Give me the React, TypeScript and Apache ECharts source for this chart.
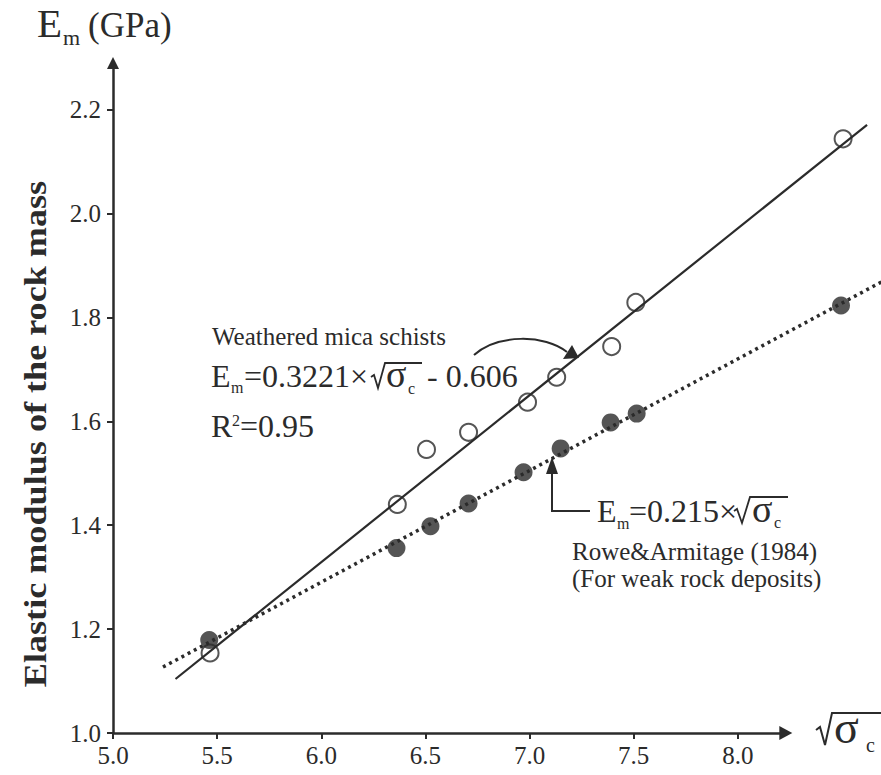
import React, { useEffect, useRef } from "react";
import * as echarts from "echarts";

const xTicks = [5.0, 5.5, 6.0, 6.5, 7.0, 7.5, 8.0];
const yTicks = [1.0, 1.2, 1.4, 1.6, 1.8, 2.0, 2.2];

// Weathered mica schists (open circles)
const schistX = [5.466, 6.365, 6.505, 6.707, 6.99, 7.13, 7.394, 7.51, 8.505];
const schistY = [1.154, 1.44, 1.546, 1.579, 1.637, 1.685, 1.744, 1.829, 2.144];

// Filled circles
const weakX = [5.462, 6.361, 6.524, 6.707, 6.971, 7.149, 7.389, 7.514, 8.495];
const weakY = [1.179, 1.356, 1.398, 1.442, 1.502, 1.548, 1.598, 1.615, 1.823];

// Fitted lines, end points
const schistFit: [number, number][] = [[5.3, 1.104], [8.62, 2.171]];
const roweFit: [number, number][] = [[5.24, 1.127], [8.78, 1.888]];

// Drawn x axis (ends in an arrow short of the plot edge)
const xAxisStart: [number, number] = [5.0, 1.0];
const xAxisEnd: [number, number] = [8.23, 1.0];

const FONT = '"Liberation Serif", "Times New Roman", serif';
const INK = "#2b2b2b";

function txt(text: string, x: number, baseline: number, size: number, extra: any = {}) {
  return {
    type: "text",
    x,
    y: baseline - 0.3375 * size,
    silent: true,
    style: {
      text,
      fontSize: size,
      fontFamily: FONT,
      fill: INK,
      align: "left",
      verticalAlign: "middle",
      textAlign: "left",
      textVerticalAlign: "middle",
      ...extra,
    },
  };
}

function line(points: number[][], width = 2) {
  return {
    type: "polyline",
    silent: true,
    shape: { points },
    style: { stroke: INK, lineWidth: width, fill: null },
  };
}

export default function App() {
  const ref = useRef<HTMLDivElement>(null);
  useEffect(() => {
    if (!ref.current) return;
    const chart = echarts.init(ref.current, undefined, { renderer: "svg" });
    const graphic: any[] = [
      // Axis title Em (GPa)
      txt("E", 37, 37, 41),
      txt("m", 63, 45, 22),
      txt("(GPa)", 88, 37, 35),
      // Y axis name
      {
        type: "text",
        x: 35,
        y: 434,
        rotation: Math.PI / 2,
        scaleX: 1.13,
        silent: true,
        style: {
          text: "Elastic modulus of the rock mass",
          fontSize: 32,
          fontWeight: "bold",
          fontFamily: FONT,
          fill: INK,
          align: "center",
          verticalAlign: "middle",
          textAlign: "center",
          textVerticalAlign: "middle",
        },
      },
      // X axis name sqrt(sigma_c)
      line([[816, 730], [820, 727], [825, 745], [832, 713], [881, 713]], 2),
      txt("σ", 834, 743, 46),
      txt("c", 866, 752, 20),
      // Weathered mica schists block
      txt("Weathered mica schists", 212, 345, 25),
      txt("E", 211, 387, 32),
      txt("m", 231, 393, 16),
      txt("=0.3221×", 244, 387, 32),
      line([[371, 377], [374, 375], [378, 388], [385, 363], [422, 363]], 1.8),
      txt("σ", 386, 387, 38),
      txt("c", 408, 394, 16),
      txt("- 0.606", 427, 387, 32),
      txt("R", 211, 437, 32),
      txt("2", 232, 426, 16),
      txt("=0.95", 240, 437, 32),
      // curved arrow
      {
        type: "bezierCurve",
        silent: true,
        shape: { x1: 474, y1: 355, cpx1: 497, cpy1: 334, cpx2: 545, cpy2: 334, x2: 567, y2: 352 },
        style: { stroke: INK, lineWidth: 2, fill: null },
      },
      {
        type: "polygon",
        silent: true,
        shape: { points: [[579, 358], [572, 345], [563, 359]] },
        style: { fill: INK },
      },
      // Rowe & Armitage block
      line([[590, 511], [552, 511], [552, 470]], 2),
      {
        type: "polygon",
        silent: true,
        shape: { points: [[552, 457], [546, 474], [558, 474]] },
        style: { fill: INK },
      },
      txt("E", 597, 522, 32),
      txt("m", 617, 529, 16),
      txt("=0.215×", 629, 522, 32),
      line([[734, 511], [737, 509], [742, 523], [750, 497], [788, 497]], 1.8),
      txt("σ", 752, 522, 38),
      txt("c", 774, 528, 16),
      txt("Rowe&Armitage (1984)", 572, 560, 25),
      txt("(For weak rock deposits)", 572, 587, 25),
    ];

    chart.setOption({
      animation: false,
      backgroundColor: "#ffffff",
      grid: { left: 113, right: 0, top: 63, bottom: 42, containLabel: false },
      xAxis: {
        type: "value",
        min: 5.0,
        max: 8.687,
        splitLine: { show: false },
        axisLine: { show: false },
        axisTick: {
          show: true,
          customValues: xTicks,
          length: 6,
          lineStyle: { color: INK, width: 2 },
        },
        axisLabel: {
          customValues: xTicks,
          formatter: (v: number) => v.toFixed(1),
          fontSize: 25,
          fontFamily: FONT,
          color: INK,
          margin: 10,
        },
      },
      yAxis: {
        type: "value",
        min: 1.0,
        max: 2.29,
        splitLine: { show: false },
        axisLine: {
          show: true,
          symbol: ["none", "triangle"],
          symbolSize: [12, 12],
          lineStyle: { color: INK, width: 2.5 },
        },
        axisTick: {
          show: true,
          customValues: yTicks,
          length: 6,
          lineStyle: { color: INK, width: 2 },
        },
        axisLabel: {
          customValues: yTicks,
          formatter: (v: number) => v.toFixed(1),
          fontSize: 25,
          fontFamily: FONT,
          color: INK,
          margin: 12,
        },
      },
      series: [
        {
          type: "line",
          data: schistFit,
          showSymbol: false,
          symbol: "none",
          clip: false,
          lineStyle: { color: INK, width: 2.2 },
          z: 2,
          markLine: {
            silent: true,
            symbol: ["none", "triangle"],
            symbolSize: [14, 13],
            label: { show: false },
            lineStyle: { color: INK, width: 2.5, type: "solid" },
            data: [[{ coord: xAxisStart }, { coord: xAxisEnd }]],
          },
        },
        {
          type: "line",
          data: roweFit,
          showSymbol: false,
          symbol: "none",
          clip: false,
          lineStyle: { color: INK, width: 3.5, type: [3, 4] },
          z: 2,
        },
        {
          type: "scatter",
          data: schistX.map((x, i) => [x, schistY[i]]),
          symbol: "circle",
          symbolSize: 17,
          clip: false,
          itemStyle: { color: "rgba(0,0,0,0)", borderColor: INK, borderWidth: 2 },
          z: 3,
        },
        {
          type: "scatter",
          data: weakX.map((x, i) => [x, weakY[i]]),
          symbol: "circle",
          symbolSize: 18,
          clip: false,
          itemStyle: { color: INK },
          z: 4,
        },
      ],
      graphic,
    });
    return () => chart.dispose();
  }, []);
  return (
    <div
      ref={ref}
      style={{ position: "fixed", left: 0, top: 0, width: 881, height: 775, background: "#fff" }}
    />
  );
}
